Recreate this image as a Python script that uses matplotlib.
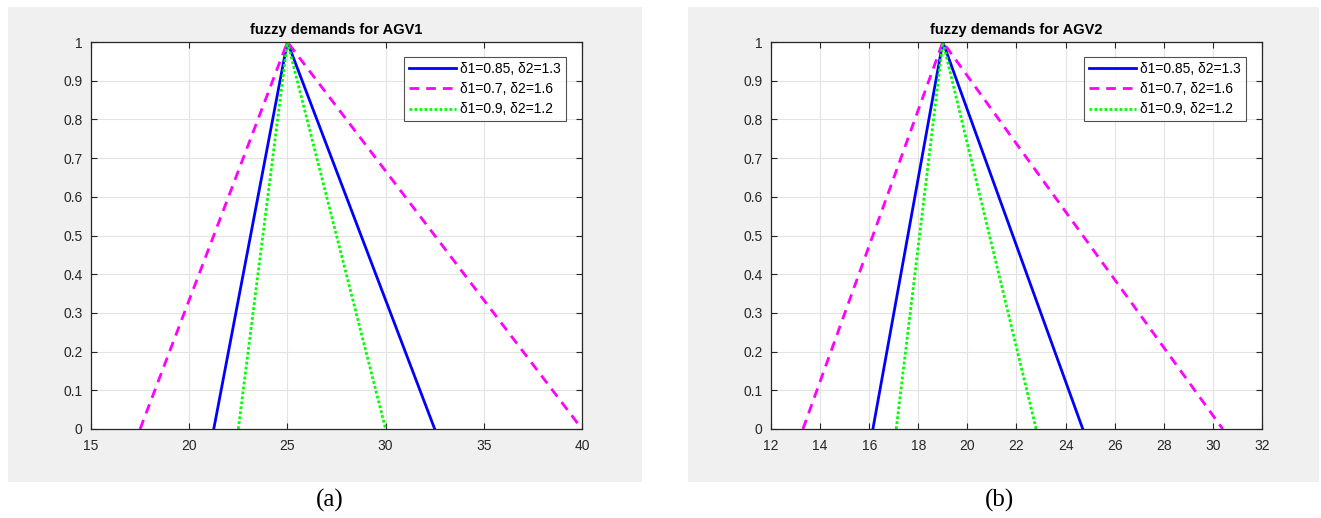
import matplotlib
matplotlib.use("Agg")
import matplotlib.pyplot as plt
from matplotlib.patches import Rectangle

# ---- data ----
membership = [0, 1, 0]
legend_labels = ["δ1=0.85, δ2=1.3", "δ1=0.7, δ2=1.6", "δ1=0.9, δ2=1.2"]

agv1_blue = [21.25, 25, 32.5]
agv1_magenta = [17.5, 25, 40]
agv1_green = [22.5, 25, 30]

agv2_blue = [16.15, 19, 24.7]
agv2_magenta = [13.3, 19, 30.4]
agv2_green = [17.1, 19, 22.8]

titles = ["fuzzy demands for AGV1", "fuzzy demands for AGV2"]
xlims = [(15, 40), (12, 32)]
xticks = [[15, 20, 25, 30, 35, 40], [12, 14, 16, 18, 20, 22, 24, 26, 28, 30, 32]]
yticks = [0, 0.1, 0.2, 0.3, 0.4, 0.5, 0.6, 0.7, 0.8, 0.9, 1]
ytick_labels = ["0", "0.1", "0.2", "0.3", "0.4", "0.5", "0.6", "0.7", "0.8", "0.9", "1"]
panel_labels = ["(a)", "(b)"]

W, H = 1321, 518
fig = plt.figure(figsize=(W / 100, H / 100), dpi=100)
fig.patch.set_facecolor("white")

def fx(x):
    return x / W

def fy(y):
    return 1 - y / H

# gray panels (pixel boxes)
panels = [(8, 7, 642, 482), (688, 7, 1319, 482)]
axes_boxes = [(91, 42, 582, 429), (771, 42, 1262, 429)]
legend_boxes = [(404, 57), (1084, 57)]
label_x = [330, 1000]

series = [
    (agv1_blue, agv1_magenta, agv1_green),
    (agv2_blue, agv2_magenta, agv2_green),
]

for i in range(2):
    x0, y0, x1, y1 = panels[i]
    fig.patches.append(Rectangle((fx(x0), fy(y1)), (x1 - x0) / W, (y1 - y0) / H,
                                 transform=fig.transFigure, facecolor="#f0f0f0",
                                 edgecolor="none", zorder=-10))
    ax0, ay0, ax1, ay1 = axes_boxes[i]
    ax = fig.add_axes([fx(ax0), fy(ay1), (ax1 - ax0) / W, (ay1 - ay0) / H], zorder=5)
    ax.set_facecolor("white")
    b, m, g = series[i]
    ax.plot(b, membership, color="#0000ff", lw=2.0, ls="-", label=legend_labels[0])
    ax.plot(m, membership, color="#ff00ff", lw=2.0, ls=(0, (3.5, 2.5)), label=legend_labels[1])
    ax.plot(g, membership, color="#00ff00", lw=2.0, ls=(0, (1, 0.8)), label=legend_labels[2])
    ax.set_xlim(*xlims[i])
    ax.set_ylim(0, 1)
    ax.set_xticks(xticks[i])
    ax.set_xticklabels([str(t) for t in xticks[i]])
    ax.set_yticks(yticks)
    ax.set_yticklabels(ytick_labels)
    ax.grid(True, color="#e3e3e3", lw=0.8)
    ax.set_axisbelow(True)
    ax.tick_params(direction="in", top=True, right=True, length=4, width=0.8,
                   labelsize=10, colors="#262626")
    ax.tick_params(axis="x", pad=7)
    ax.tick_params(axis="y", pad=6)
    for t in ax.get_xticklabels() + ax.get_yticklabels():
        t.set_fontfamily("Liberation Sans")
    for s in ax.spines.values():
        s.set_color("#262626")
        s.set_linewidth(0.9)
    ax.set_title(titles[i], fontsize=10.5, fontweight="bold", fontfamily="Liberation Sans",
                 pad=6, color="#000000")
    lx, ly = legend_boxes[i]
    axw = ax1 - ax0
    axh = ay1 - ay0
    leg = ax.legend(loc="upper left",
                    bbox_to_anchor=((lx - ax0) / axw, 1 - (ly - ay0) / axh),
                    prop={"family": "Liberation Sans", "size": 10},
                    frameon=True, fancybox=False, handlelength=3.4,
                    borderpad=0.35, labelspacing=0.45, handletextpad=0.3,
                    borderaxespad=0)
    leg.get_frame().set_edgecolor("#262626")
    leg.get_frame().set_linewidth(0.8)
    fig.text(fx(label_x[i]), fy(500), panel_labels[i], ha="center", va="center",
             fontsize=18, fontfamily="Liberation Serif")

fig.savefig("out.png", dpi=100)
